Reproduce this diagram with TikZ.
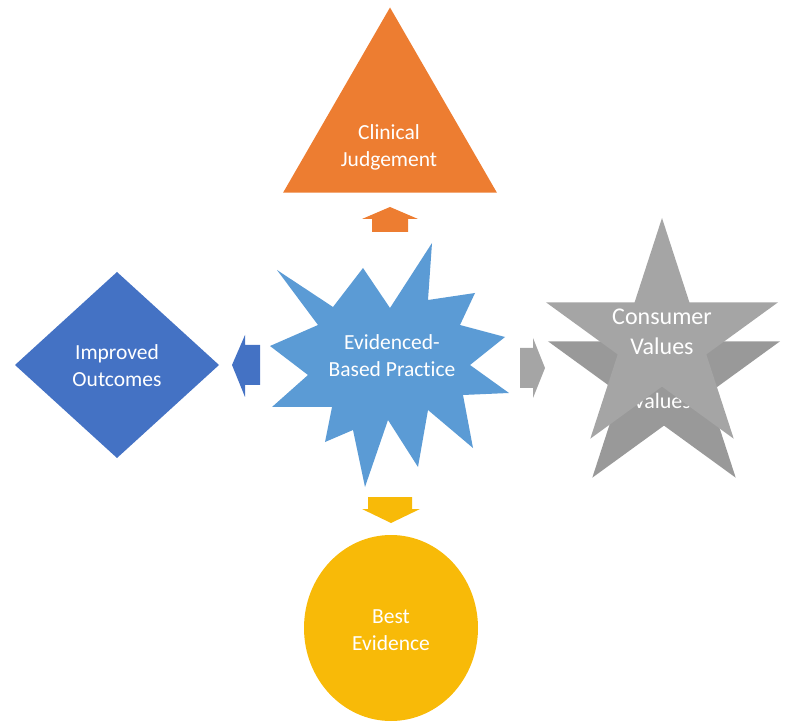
\documentclass[tikz,border=0pt]{standalone}
\usepackage{fontspec}
\setmainfont{Carlito}[Ligatures = NoCommon]
\usetikzlibrary{shapes.geometric}
\definecolor{cjorange}{HTML}{ED7D31}
\definecolor{iodblue}{HTML}{4472C4}
\definecolor{ebpblue}{HTML}{5B9BD5}
\definecolor{cvgray}{HTML}{A5A5A5}
\definecolor{cvshade}{HTML}{999999}
\definecolor{beyellow}{HTML}{F8BA08}
\tikzset{
	lbl/.style = {text = white, align = center, inner sep = 0pt},
	biglbl/.style = {lbl, font = {\fontsize{24pt}{30pt}\selectfont}},
	blob/.style = {inner sep = 0pt, outer sep = 0pt},
}

\begin{document}
\begin{tikzpicture}[x = 1pt, y = -1pt, font = {\fontsize{21.5pt}{27pt}\selectfont}]
\useasboundingbox (0,0) rectangle (785,727);

% outer shapes
\node[blob, regular polygon, regular polygon sides = 3, minimum size = 247pt, fill = cjorange] (CJ) at (390, 131) {};
\node[lbl] (CJ-txt) at (389, 147) {Clinical \\ Judgement};

\node[blob, diamond, minimum width = 204pt, minimum height = 186pt, fill = iodblue] (IO) at (117, 365) {};
\node[lbl] (IO-txt) at (117, 366) {Improved \\ Outcomes};

\node[blob, ellipse, minimum width = 174pt, minimum height = 186pt, fill = beyellow] (BE) at (391, 628) {};
\node[lbl] (BE-txt) at (391, 630) {Best \\ Evidence};

% the star is doubled, the lower one sits behind
\node[blob, star, star points = 5, star point ratio = 2.618, minimum size = 244pt, fill = cvshade] (CV2) at (664, 379) {};
\node[lbl, font = {\fontsize{22pt}{30pt}\selectfont}] (CV2-txt) at (662, 386) {Consumer \\ Values};
\node[blob, star, star points = 5, star point ratio = 2.618, minimum size = 244pt, fill = cvgray] (CV) at (662, 340) {};
\node[biglbl] (CV-txt) at (662, 332) {Consumer \\ Values};

% centre burst
\fill[ebpblue] (432,243) -- (428,300) -- (475,293) -- (460,325) -- (505,337) -- (470,365)
	-- (509,393) -- (463,395) -- (473,448) -- (428,410) -- (418,467) -- (388,420)
	-- (365,487) -- (353,430) -- (325,442) -- (332,407) -- (272,407) -- (308,375)
	-- (270,346) -- (318,325) -- (277,270) -- (333,307) -- (363,268) -- (390,308) -- cycle;
\node[lbl] (EBP) at (392, 356) {Evidenced- \\ Based Practice};

% block arrows
\fill[cjorange] (390,207) -- (418,219) -- (408,219) -- (408,232) -- (372,232) -- (372,219) -- (362,219) -- cycle;
\fill[iodblue] (232,365) -- (245,335) -- (245,345) -- (260,345) -- (260,385) -- (245,385) -- (245,397) -- cycle;
\fill[cvgray] (545,368) -- (533,338) -- (533,348) -- (520,348) -- (520,388) -- (533,388) -- (533,398) -- cycle;
\fill[beyellow] (391,523) -- (420,509) -- (412,509) -- (412,497) -- (368,497) -- (368,509) -- (362,509) -- cycle;
\end{tikzpicture}
\end{document}
